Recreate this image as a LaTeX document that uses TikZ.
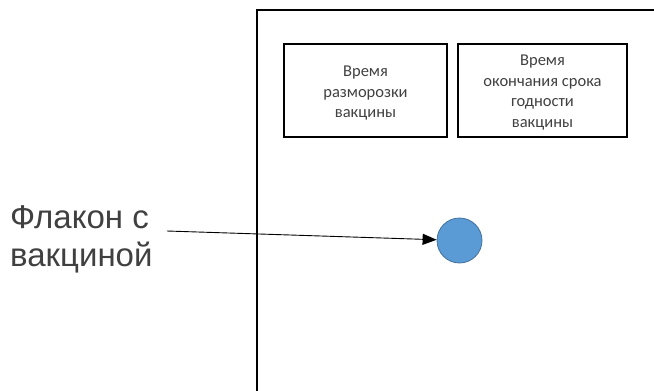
\documentclass[tikz,border=0pt]{standalone}
\usepackage{fontspec}
\setmainfont{Liberation Sans}
\newfontfamily\boxfont{Carlito}
\usetikzlibrary{arrows.meta}
\definecolor{textgray}{HTML}{404040}
\definecolor{vialfill}{HTML}{5B9BD5}
\definecolor{vialline}{HTML}{41719C}
\tikzset{
	infobox/.style={draw=black, line width=2pt, minimum height=93pt, inner sep=0pt},
	boxtext/.style={align=center, text=textgray, font=\boxfont\fontsize{16.5}{20.5}\selectfont, inner sep=0pt}
}

\begin{document}
\begin{tikzpicture}[x=1pt, y=-1pt]
	\useasboundingbox (0,0) rectangle (654,391);
%	frame of the storage
	\draw [line width=2pt] (257,391) -- (257,10) -- (655,10);
	\node [infobox, minimum width=163pt] (T1) at (365.5,90.5) {};
	\node [infobox, minimum width=169pt] (T2) at (542.5,90.5) {};
	\node [boxtext] (T1text) at ([yshift=-3pt]T1.center) {Время\\разморозки\\вакцины};
	\node [boxtext] (T2text) at ([yshift=-2pt]T2.center) {Время\\окончания срока\\годности\\вакцины};
	\node [circle, draw=vialline, fill=vialfill, line width=0.8pt, minimum size=45pt, inner sep=0pt] (V) at (459.5,240.5) {};
	\node [anchor=west, align=left, text=textgray, font=\fontsize{33}{38}\selectfont, inner sep=0pt] (L) at (10,239) {Флакон с\\вакциной};
	\coordinate (S) at (167,231);
	\draw [-{Triangle[length=14pt, width=11pt]}, line width=0.9pt] (S) -- (V);

\end{tikzpicture}
\end{document}
